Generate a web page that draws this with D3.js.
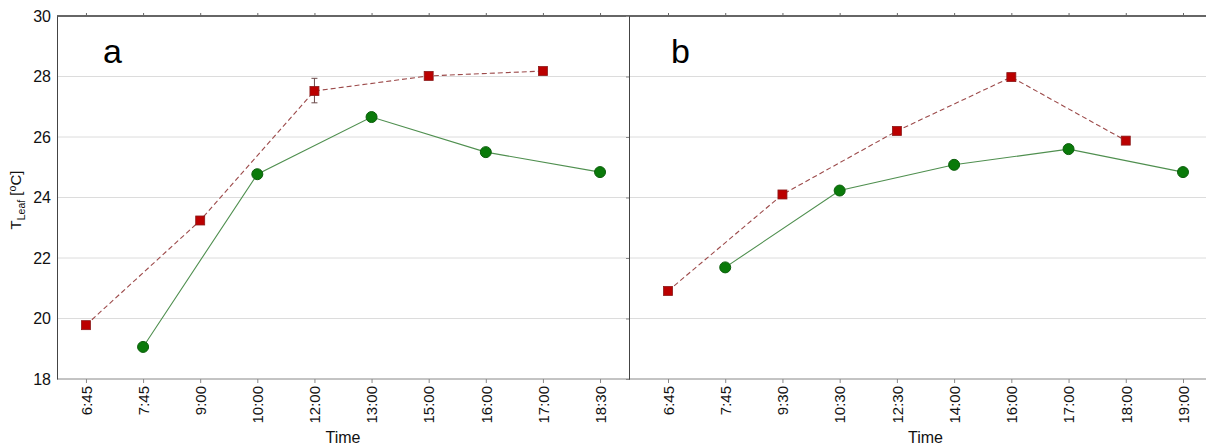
<!DOCTYPE html>
<html>
<head>
<meta charset="utf-8">
<script src="https://d3js.org/d3.v7.min.js"></script>
<style>
  body { margin: 0; background: #fff; font-family: 'Liberation Sans', Arial, sans-serif; }
  svg { display: block; }
</style>
</head>
<body>
<div id="chart"></div>
<script>
// panel a
const timesA = ["6:45","7:45","9:00","10:00","12:00","13:00","15:00","16:00","17:00","18:30"];
const redA = [["6:45",19.78],["9:00",23.24],["12:00",27.52],["15:00",28.02],["17:00",28.18]];
const redAErr = [["12:00",27.13,27.94]];
const greenA = [["7:45",19.06],["10:00",24.77],["13:00",26.66],["16:00",25.5],["18:30",24.84]];
// panel b
const timesB = ["6:45","7:45","9:30","10:30","12:30","14:00","16:00","17:00","18:00","19:00"];
const redB = [["6:45",20.91],["9:30",24.1],["12:30",26.2],["16:00",27.98],["18:00",25.88]];
const greenB = [["7:45",21.69],["10:30",24.23],["14:00",25.08],["17:00",25.6],["19:00",24.84]];
const yTicks = [18,20,22,24,26,28,30];

const W = 1206, H = 446;
const plotTop = 16, plotBottom = 379, plotLeft = 57, divider = 629;
const font = "'Liberation Sans', Arial, sans-serif";

const svg = d3.select("#chart").append("svg")
  .attr("width", W).attr("height", H)
  .style("font-family", font);

const y = d3.scaleLinear().domain([18, 30]).range([plotBottom, plotTop]);

// gridlines
svg.append("g").selectAll("line")
  .data(yTicks.filter(d => d > 18 && d < 30))
  .join("line")
    .attr("x1", plotLeft).attr("x2", W)
    .attr("y1", d => y(d)).attr("y2", d => y(d))
    .attr("stroke", "#dcdcdc").attr("stroke-width", 1);

// frame lines
svg.append("line").attr("x1", plotLeft).attr("x2", W)
  .attr("y1", plotTop).attr("y2", plotTop)
  .attr("stroke", "#333").attr("stroke-width", 1.3);
svg.append("line").attr("x1", plotLeft).attr("x2", W)
  .attr("y1", plotBottom).attr("y2", plotBottom)
  .attr("stroke", "#888").attr("stroke-width", 1);

// left axis
svg.append("g")
  .attr("transform", `translate(${plotLeft},0)`)
  .call(d3.axisLeft(y).tickValues(yTicks).tickSize(0).tickPadding(6))
  .call(g => g.select(".domain").attr("stroke", "#444"))
  .call(g => g.selectAll("text").attr("font-size", 16).attr("fill", "#111")
    .attr("font-family", font));

// divider
svg.append("g")
  .attr("transform", `translate(${divider},0)`)
  .call(d3.axisLeft(y).tickValues(yTicks).tickSize(3).tickFormat(""))
  .call(g => g.select(".domain").attr("stroke", "#444"))
  .call(g => g.selectAll(".tick line").attr("stroke", "#888"));

// y label
const yl = svg.append("text")
  .attr("transform", "translate(21,200) rotate(-90)")
  .attr("text-anchor", "middle")
  .attr("font-size", 15).attr("fill", "#111");
yl.append("tspan").attr("fill", "#111").text("T");
yl.append("tspan").attr("fill", "#111").attr("font-size", 10.5).attr("dy", 4).text("Leaf");
yl.append("tspan").attr("fill", "#111").attr("dy", -4).text(" [");
yl.append("tspan").attr("fill", "#111").attr("font-size", 10.5).attr("dy", -5).text("o");
yl.append("tspan").attr("fill", "#111").attr("dy", 5).text("C]");

function panel(times, red, redErr, green, x0, x1, label, labelX) {
  const x = d3.scalePoint().domain(times).range([x0, x1]).padding(0.5);

  // bottom ticks and labels
  svg.append("g")
    .attr("transform", `translate(0,${plotBottom})`)
    .call(d3.axisBottom(x).tickSize(4).tickPadding(5))
    .call(g => g.select(".domain").remove())
    .call(g => g.selectAll(".tick line").attr("stroke", "#888"))
    .call(g => g.selectAll("text")
      .attr("font-size", 15).attr("fill", "#111")
      .attr("font-family", font)
      .attr("transform", "rotate(-90)")
      .attr("text-anchor", "end")
      .attr("x", -7).attr("y", 0).attr("dy", "0.35em"));

  // top ticks
  svg.append("g")
    .attr("transform", `translate(0,${plotTop})`)
    .call(d3.axisTop(x).tickSize(3).tickFormat(""))
    .call(g => g.select(".domain").remove())
    .call(g => g.selectAll(".tick line").attr("stroke", "#666"));

  svg.append("text")
    .attr("x", (x0 + x1) / 2).attr("y", 443)
    .attr("text-anchor", "middle")
    .attr("font-size", 16).attr("fill", "#111")
    .text("Time");

  svg.append("text")
    .attr("x", labelX).attr("y", 63)
    .attr("font-size", 34).attr("fill", "#000")
    .text(label);

  const line = d3.line().x(d => x(d[0])).y(d => y(d[1]));

  svg.append("path").datum(green)
    .attr("d", line).attr("fill", "none")
    .attr("stroke", "#4f8f4f").attr("stroke-width", 1.1);

  svg.append("path").datum(red)
    .attr("d", line).attr("fill", "none")
    .attr("stroke", "#9c4a4a").attr("stroke-width", 1.1)
    .attr("stroke-dasharray", "5,3");

  // error bars
  const eb = svg.append("g").attr("stroke", "#6b4a4a").attr("stroke-width", 1);
  redErr.forEach(d => {
    eb.append("line").attr("x1", x(d[0])).attr("x2", x(d[0]))
      .attr("y1", y(d[1])).attr("y2", y(d[2]));
    [d[1], d[2]].forEach(v => eb.append("line")
      .attr("x1", x(d[0]) - 3).attr("x2", x(d[0]) + 3)
      .attr("y1", y(v)).attr("y2", y(v)));
  });

  svg.append("g").selectAll("circle")
    .data(green).join("circle")
      .attr("cx", d => x(d[0])).attr("cy", d => y(d[1]))
      .attr("r", 5.5)
      .attr("fill", "#0a7a0a").attr("stroke", "#0b5e0b").attr("stroke-width", 1);

  svg.append("g").selectAll("rect")
    .data(red).join("rect")
      .attr("x", d => x(d[0]) - 4.5).attr("y", d => y(d[1]) - 4.5)
      .attr("width", 9).attr("height", 9)
      .attr("fill", "#bb0000").attr("stroke", "#8a1a1a").attr("stroke-width", 0.8);
}

panel(timesA, redA, redAErr, greenA, 57.4, 628.6, "a", 103);
panel(timesB, redB, [], greenB, 639.4, 1211.6, "b", 671);
</script>
</body>
</html>
